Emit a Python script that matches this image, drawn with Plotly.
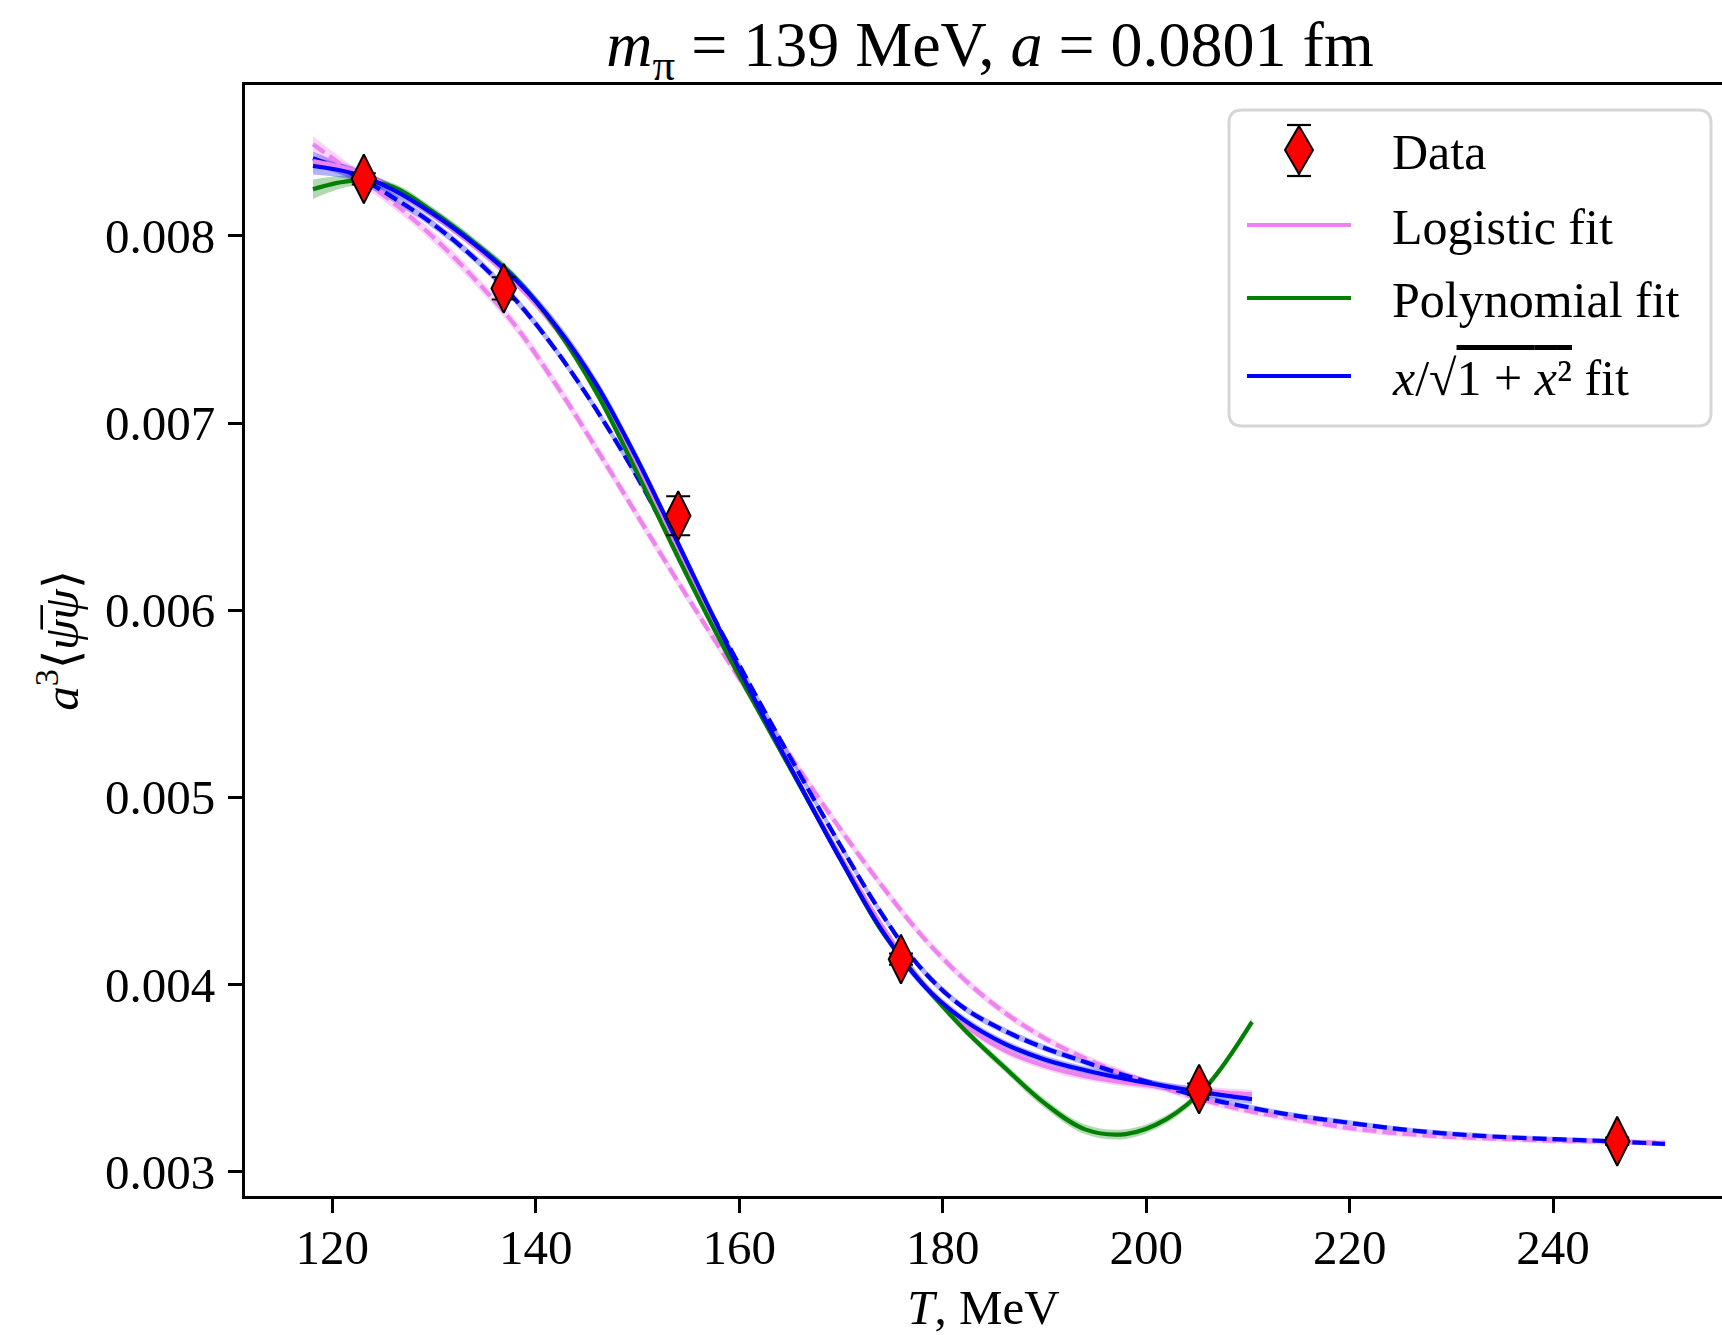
import plotly.graph_objects as go

# ---------------- data ----------------
T_fit = [118.1, 122, 126, 130, 134, 138, 142, 146, 150, 154, 158, 162, 166, 170,
         174, 178, 182, 186, 190, 194, 198, 202, 206, 210.4]
T_ext = T_fit + [214.5, 219, 224, 229, 234, 240, 245.5, 251]

sqrt_solid = [0.008374, 0.008335, 0.008247, 0.008115, 0.007955, 0.007767, 0.007519, 0.007203,
              0.006803, 0.006355, 0.005903, 0.005471, 0.005063, 0.004663, 0.004291, 0.004003,
              0.003813, 0.003685, 0.003599, 0.003541, 0.003494, 0.003455, 0.003420, 0.003386]
sqrt_solid_err = [0.000045, 0.000034, 0.000027, 0.000025, 0.000025, 0.000027, 0.000030, 0.000030,
                  0.000030, 0.000030, 0.000028, 0.000026, 0.000025, 0.000025, 0.000025, 0.000023,
                  0.000022, 0.000021, 0.000021, 0.000021, 0.000021, 0.000021, 0.000023, 0.000026]

logistic_solid = [0.008400, 0.008350, 0.008250, 0.008110, 0.007945, 0.007750, 0.007505, 0.007185,
                  0.006775, 0.006330, 0.005885, 0.005460, 0.005065, 0.004680, 0.004315, 0.004012,
                  0.003790, 0.003650, 0.003565, 0.003510, 0.003475, 0.003450, 0.003430, 0.003412]
logistic_solid_err = [0.000032, 0.000027, 0.000022, 0.000021, 0.000021, 0.000021, 0.000022, 0.000022,
                      0.000022, 0.000022, 0.000021, 0.000021, 0.000021, 0.000021, 0.000021, 0.000021,
                      0.000021, 0.000021, 0.000021, 0.000021, 0.000021, 0.000021, 0.000022, 0.000024]

poly_solid = [0.008250, 0.008295, 0.008262, 0.008125, 0.007962, 0.007775, 0.007508, 0.007160,
              0.006730, 0.006280, 0.005850, 0.005450, 0.005058, 0.004666, 0.004286, 0.004006,
              0.003766, 0.003560, 0.003365, 0.003225, 0.003200, 0.003280, 0.003460, 0.003800]
poly_solid_err = [0.000052, 0.000028, 0.000020, 0.000024, 0.000025, 0.000025, 0.000025, 0.000025,
                  0.000025, 0.000021, 0.000020, 0.000020, 0.000020, 0.000020, 0.000020, 0.000020,
                  0.000020, 0.000022, 0.000024, 0.000026, 0.000026, 0.000022, 0.000020, 0.000022]

sqrt_dashed = [0.008415, 0.008330, 0.008205, 0.008060, 0.007880, 0.007660, 0.007388, 0.007068,
               0.006708, 0.006308, 0.005908, 0.005508, 0.005118, 0.004738, 0.004378, 0.004078,
               0.003878, 0.003754, 0.003660, 0.003585, 0.003512, 0.003450, 0.003390, 0.003340,
               0.003300, 0.003267, 0.003232, 0.003205, 0.003187, 0.003173, 0.003162, 0.003147]
sqrt_dashed_err = [0.000035, 0.000028, 0.000024, 0.000022, 0.000022, 0.000022, 0.000022, 0.000022,
                   0.000022, 0.000022, 0.000021, 0.000021, 0.000021, 0.000021, 0.000021, 0.000020,
                   0.000019, 0.000018, 0.000018, 0.000017, 0.000017, 0.000016, 0.000016, 0.000016,
                   0.000015, 0.000015, 0.000014, 0.000014, 0.000014, 0.000013, 0.000013, 0.000013]

logistic_dashed = [0.008490, 0.008338, 0.008178, 0.007990, 0.007770, 0.007520, 0.007205, 0.006860,
                   0.006505, 0.006150, 0.005805, 0.005469, 0.005141, 0.004825, 0.004529, 0.004257,
                   0.004033, 0.003853, 0.003713, 0.003605, 0.003517, 0.003441, 0.003377, 0.003320,
                   0.003283, 0.003240, 0.003208, 0.003188, 0.003176, 0.003165, 0.003159, 0.003154]
logistic_dashed_err = [0.000042, 0.000034, 0.000030, 0.000030, 0.000030, 0.000030, 0.000030, 0.000030,
                       0.000029, 0.000028, 0.000027, 0.000026, 0.000025, 0.000025, 0.000025, 0.000024,
                       0.000023, 0.000022, 0.000021, 0.000020, 0.000020, 0.000019, 0.000019, 0.000018,
                       0.000018, 0.000017, 0.000017, 0.000016, 0.000016, 0.000015, 0.000015, 0.000015]

T_data = [123.1, 136.85, 154.0, 175.9, 205.2, 246.3]
pbp_data = [0.008305, 0.007720, 0.006505, 0.004135, 0.003440, 0.003162]
pbp_err = [0.000030, 0.000060, 0.000104, 0.000030, 0.000030, 0.000020]

x_ticks = [120, 140, 160, 180, 200, 220, 240]
y_ticks = [0.003, 0.004, 0.005, 0.006, 0.007, 0.008]
y_ticktext = ["0.003", "0.004", "0.005", "0.006", "0.007", "0.008"]

title_text = "<i>m</i><sub>π</sub> = 139 MeV, <i>a</i> = 0.0801 fm"
xlabel = "<i>T</i>, MeV"
ylabel = "<i>a</i><sup>3</sup>⟨<i>ψ\u0305ψ</i>⟩"
legend_labels = ["Data", "Logistic fit", "Polynomial fit",
                 "<i>x</i>/√<span style='text-decoration:overline'>1 + <i>x</i>²</span> fit"]

# ---------------- styling ----------------
VIOLET = "#EE82EE"
GREEN = "#008000"
BLUE = "#0000FF"
BAND = {VIOLET: "rgba(238,130,238,0.35)", GREEN: "rgba(0,128,0,0.30)", BLUE: "rgba(0,0,255,0.30)"}
FONT = "Liberation Serif"
LW = 4.2
W, H = 1722, 1335
L, R, TOP, BOT = 245, 1722, 85, 1196


def pxx(x):
    return (x - L) / (R - L)


def pxy(y):
    return (BOT - y) / (BOT - TOP)


fig = go.Figure()


def add_band(x, y, hw, color):
    up = [a + b for a, b in zip(y, hw)]
    lo = [a - b for a, b in zip(y, hw)]
    fig.add_trace(go.Scatter(x=x, y=lo, mode="lines", line=dict(width=0, shape="spline"),
                             showlegend=False, hoverinfo="skip"))
    fig.add_trace(go.Scatter(x=x, y=up, mode="lines", line=dict(width=0, shape="spline"),
                             fill="tonexty", fillcolor=BAND[color], showlegend=False,
                             hoverinfo="skip"))


def add_line(x, y, color, dash=None):
    fig.add_trace(go.Scatter(x=x, y=y, mode="lines",
                             line=dict(color=color, width=LW, shape="spline", smoothing=1.0,
                                       dash=dash if dash else "solid"),
                             showlegend=False))


add_band(T_ext, logistic_dashed, logistic_dashed_err, VIOLET)
add_band(T_ext, sqrt_dashed, sqrt_dashed_err, BLUE)
add_band(T_fit, logistic_solid, logistic_solid_err, VIOLET)
add_band(T_fit, poly_solid, poly_solid_err, GREEN)
add_band(T_fit, sqrt_solid, sqrt_solid_err, BLUE)

add_line(T_ext, logistic_dashed, VIOLET, "14px,6px")
add_line(T_ext, sqrt_dashed, BLUE, "14px,6px")
add_line(T_fit, logistic_solid, VIOLET)
add_line(T_fit, poly_solid, GREEN)
add_line(T_fit, sqrt_solid, BLUE)

fig.add_trace(go.Scatter(
    x=T_data, y=pbp_data, mode="markers",
    marker=dict(symbol="diamond-tall", size=35, color="red",
                line=dict(color="black", width=2)),
    error_y=dict(type="data", array=pbp_err, visible=True, color="black",
                 thickness=2, width=12),
    showlegend=False))

# ---------------- manual legend (matplotlib style) ----------------
shapes = []
bx0, by0, bx1, by1, rad = 1229, 110, 1711, 426, 13


def P(x, y):
    return f"{pxx(x):.5f},{pxy(y):.5f}"


box_path = (f"M{P(bx0 + rad, by0)} L{P(bx1 - rad, by0)} Q{P(bx1, by0)} {P(bx1, by0 + rad)} "
            f"L{P(bx1, by1 - rad)} Q{P(bx1, by1)} {P(bx1 - rad, by1)} "
            f"L{P(bx0 + rad, by1)} Q{P(bx0, by1)} {P(bx0, by1 - rad)} "
            f"L{P(bx0, by0 + rad)} Q{P(bx0, by0)} {P(bx0 + rad, by0)} Z")
shapes.append(dict(type="path", xref="paper", yref="paper", path=box_path,
                   fillcolor="rgba(255,255,255,0.85)", line=dict(color="#d6d6d6", width=3),
                   layer="above"))

cx, cy = 1299, 150
for seg in [((cx, 125), (cx, 176)), ((cx - 12, 125), (cx + 12, 125)), ((cx - 12, 176), (cx + 12, 176))]:
    shapes.append(dict(type="line", xref="paper", yref="paper",
                       x0=pxx(seg[0][0]), y0=pxy(seg[0][1]), x1=pxx(seg[1][0]), y1=pxy(seg[1][1]),
                       line=dict(color="black", width=2.2), layer="above"))
dia = f"M{P(cx, cy - 24)} L{P(cx + 14, cy)} L{P(cx, cy + 24)} L{P(cx - 14, cy)} Z"
shapes.append(dict(type="path", xref="paper", yref="paper", path=dia, fillcolor="red",
                   line=dict(color="black", width=2), layer="above"))

leg_y = [150, 225, 298, 376]
for col, yy in zip([VIOLET, GREEN, BLUE], leg_y[1:]):
    shapes.append(dict(type="line", xref="paper", yref="paper",
                       x0=pxx(1247), x1=pxx(1351), y0=pxy(yy), y1=pxy(yy),
                       line=dict(color=col, width=LW), layer="above"))

annotations = []
for lab, yy in zip(legend_labels, leg_y):
    annotations.append(dict(text=lab, xref="paper", yref="paper", x=pxx(1390), y=pxy(yy + 2),
                            xanchor="left", yanchor="middle", showarrow=False,
                            font=dict(family=FONT, size=50, color="black")))

fig.update_layout(
    width=W, height=H,
    margin=dict(l=L, r=W - R, t=TOP, b=H - BOT, pad=0),
    paper_bgcolor="white", plot_bgcolor="white",
    title=dict(text=title_text, x=990 / W, xanchor="center", y=1 - 44 / H, yanchor="middle",
               xref="container", yref="container",
               font=dict(family=FONT, size=64, color="black")),
    showlegend=False,
    shapes=shapes, annotations=annotations,
    xaxis=dict(range=[111.42, 256.6], tickvals=x_ticks, ticks="outside", ticklen=14,
               tickwidth=2.5, tickcolor="black", showline=True, linewidth=3, linecolor="black",
               mirror=True, showgrid=False, zeroline=False, ticklabelstandoff=-8,
               tickfont=dict(family=FONT, size=49, color="black"),
               title=dict(text=xlabel, font=dict(family=FONT, size=49, color="black"), standoff=26)),
    yaxis=dict(range=[0.002869, 0.008807], tickvals=y_ticks, ticktext=y_ticktext,
               ticks="outside", ticklen=14, tickwidth=2.5, tickcolor="black", showline=True,
               linewidth=3, linecolor="black", mirror=False, showgrid=False, zeroline=False,
               ticklabelstandoff=3,
               tickfont=dict(family=FONT, size=49, color="black"),
               title=dict(text=ylabel, font=dict(family=FONT, size=49, color="black"), standoff=11)),
)

fig.write_html("out.html")
